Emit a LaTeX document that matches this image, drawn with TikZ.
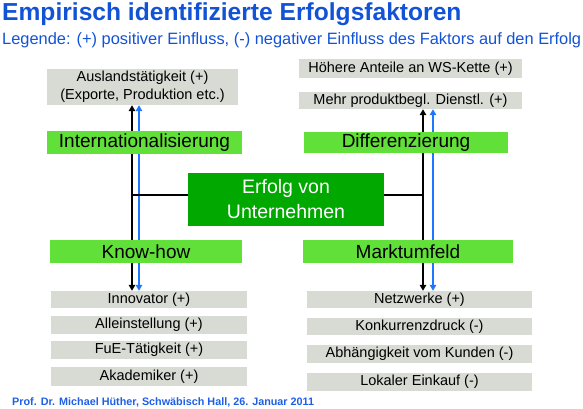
\documentclass[tikz,border=0pt]{standalone}
\usepackage{fontspec}
\setmainfont{Liberation Sans}
\usetikzlibrary{arrows.meta,backgrounds}
\definecolor{titleblue}{RGB}{18,82,214}
\definecolor{footblue}{RGB}{30,95,230}
\definecolor{lgreen}{RGB}{98,224,58}
\definecolor{dgreen}{RGB}{0,168,0}
\definecolor{gbox}{RGB}{216,219,212}
\definecolor{lineblue}{RGB}{30,120,255}
\tikzset{
  graybox/.style={fill=gbox, inner sep=0pt, font=\fontsize{14.5}{17.5}\selectfont, align=center},
  greenbox/.style={fill=lgreen, inner sep=0pt, font=\fontsize{19}{22}\selectfont},
  mainbox/.style={fill=dgreen, inner sep=0pt, text=white, align=center, font=\fontsize{19.5}{25}\selectfont},
  blackline/.style={draw=black, line width=2.2pt, {Triangle[width=6.5pt,length=6pt]}-{Triangle[width=6.5pt,length=6pt]}},
  blueline/.style={draw=lineblue, line width=2.2pt, {Triangle[width=6.5pt,length=6pt]}-{Triangle[width=6.5pt,length=6pt]}},
  hline/.style={draw=black, line width=2.2pt}
}
\newcommand{\bx}[7]{\node[#1, minimum width=#4pt, minimum height=#5pt] (#6) at (#2,#3) {#7};}
\begin{document}
\begin{tikzpicture}[x=1pt,y=-1pt]
\useasboundingbox (0,0) rectangle (583,409);
% title
\node[anchor=base west, inner sep=0pt, text=titleblue, font=\fontsize{24.6}{28}\selectfont\bfseries] (title) at (2,21) {Empirisch identifizierte Erfolgsfaktoren};
\node[anchor=base west, inner sep=0pt, text=titleblue, font=\fontsize{16.4}{20}\selectfont] (legend) at (2,45) {Legende: (+) positiver Einfluss, (-) negativer Einfluss des Faktors auf den Erfolg};
% left top
\bx{graybox}{142.5}{87}{191}{36}{ausl}{Auslandstätigkeit (+)\\(Exporte, Produktion etc.)}
\bx{greenbox}{144.5}{142.5}{195}{23}{intl}{Internationalisierung}
% right top
\bx{graybox}{410.5}{68.5}{223}{19}{hoeh}{Höhere Anteile an WS-Kette (+)}
\bx{graybox}{410.5}{100.5}{223}{17}{mehr}{Mehr produktbegl. Dienstl. (+)}
\bx{greenbox}{406}{142.5}{204}{21}{diff}{Differenzierung}
% center
\bx{mainbox}{286}{199.5}{196}{53}{erfolg}{Erfolg von\\Unternehmen}
% middle labels
\bx{greenbox}{146}{251.5}{192}{23}{know}{Know-how}
\bx{greenbox}{408}{251.5}{210}{23}{markt}{Marktumfeld}
% left bottom
\bx{graybox}{149}{299.5}{196}{17}{innov}{Innovator (+)}
\bx{graybox}{149}{325}{196}{18}{allein}{Alleinstellung (+)}
\bx{graybox}{149}{350}{196}{18}{fue}{FuE-Tätigkeit (+)}
\bx{graybox}{149}{376.5}{196}{19}{akad}{Akademiker (+)}
% right bottom
\bx{graybox}{419.5}{299.5}{225}{17}{netz}{Netzwerke (+)}
\bx{graybox}{419.5}{326.5}{225}{17}{konk}{Konkurrenzdruck (-)}
\bx{graybox}{419.5}{354}{225}{18}{abh}{Abhängigkeit vom Kunden (-)}
\bx{graybox}{419.5}{382}{225}{18}{lok}{Lokaler Einkauf (-)}
% footer
\node[anchor=base west, inner sep=0pt, text=footblue, font=\fontsize{10.8}{13}\selectfont\bfseries] (foot) at (12,405) {Prof. Dr. Michael Hüther, Schwäbisch Hall, 26. Januar 2011};
% connectors
\coordinate (lk) at (132,0);
\coordinate (lb) at (139,0);
\coordinate (rk) at (423,0);
\coordinate (rb) at (433,0);
\coordinate (hl) at (0,195);
\begin{scope}[on background layer]
\draw[blackline] (innov.north -| lk) -- (ausl.south -| lk);
\draw[blueline] (innov.north -| lb) -- (ausl.south -| lb);
\draw[blackline] (netz.north -| rk) -- (mehr.south -| rk);
\draw[blueline] (netz.north -| rb) -- (mehr.south -| rb);
\draw[hline] (lk |- hl) -- (erfolg.west |- hl);
\draw[hline] (erfolg.east |- hl) -- (rk |- hl);
\end{scope}
\end{tikzpicture}
\end{document}
